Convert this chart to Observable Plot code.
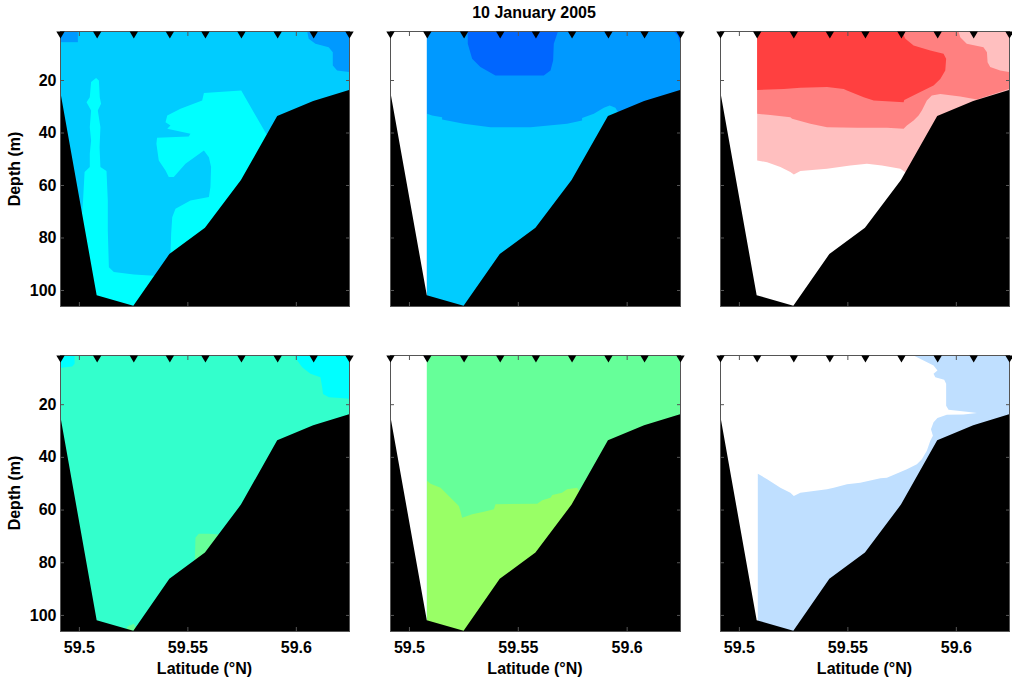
<!DOCTYPE html>
<html>
<head>
<meta charset="utf-8">
<script src="https://cdn.jsdelivr.net/npm/d3@7"></script>
<script src="https://cdn.jsdelivr.net/npm/@observablehq/plot@0.6"></script>
<style>
  html, body { margin: 0; padding: 0; background: #fff; }
  #root { position: relative; width: 1012px; height: 679px; overflow: hidden;
          font-family: "Liberation Sans", Arial, sans-serif; font-weight: bold; color: #000; }
  #root svg { position: absolute; }
  .lbl { position: absolute; font-size: 16px; line-height: 19px; font-weight: bold; white-space: nowrap; }
</style>
</head>
<body>
<div id="root"></div>
<script>
// ---------------- data (latitude °N, depth m) ----------------
const stationLat = [59.4913, 59.5082, 59.5251, 59.5417, 59.5581, 59.5747, 59.5914, 59.6080, 59.6245];
const bottomDepth = [23.8, 102.0, 106.0, 86.3, 76.3, 58.1, 33.7, 28.0, 23.8];
const depthDomain = [1.33, 106.1];
const xTicks = [59.5, 59.55, 59.6];
const yTicks = [20, 40, 60, 80, 100];
const titleText = "10 January 2005";
const xLabel = "Latitude (°N)";
const yLabel = "Depth (m)";

// panel 1 (top-left) contour regions
const p1TopLeft = [[59.4913,1.33],[59.4993,1.33],[59.4993,5.4],[59.4913,5.4]];
const p1TopRight = [[59.6050,1.33],[59.6057,4.1],[59.6088,6.0],[59.6149,7.3],[59.6168,9.2],[59.6168,14.3],[59.6188,16.2],[59.6245,16.8],[59.6245,1.33]];
const p1CyanLeft = [[59.5077,19.0],[59.5090,20.0],[59.5094,26.4],[59.5100,28.9],[59.5085,31.4],[59.5097,37.8],[59.5093,45.4],[59.5097,53.0],[59.5125,54.5],[59.5131,65.7],[59.5131,77.1],[59.5136,91.1],[59.5159,93.0],[59.5251,93.9],[59.5343,94.4],[59.5435,96.8],[59.5282,106.1],[59.5036,106.1],[59.5005,78.4],[59.5017,65.7],[59.5024,54.9],[59.5048,53.0],[59.5048,47.9],[59.5054,42.9],[59.5048,37.8],[59.5054,31.4],[59.5033,28.3],[59.5048,26.4],[59.5054,20.6]];
const p1CyanMain = [[59.5574,24.8],[59.5746,23.8],[59.5781,28.9],[59.5865,40.9],[59.5942,65.7],[59.5497,91.1],[59.5420,86.0],[59.5423,78.4],[59.5428,72.1],[59.5443,68.9],[59.5512,65.7],[59.5597,64.4],[59.5604,60.6],[59.5607,53.0],[59.5597,49.2],[59.5574,46.7],[59.5489,51.7],[59.5435,56.8],[59.5412,56.8],[59.5397,54.3],[59.5366,50.5],[59.5355,44.1],[59.5358,41.8],[59.5504,41.3],[59.5512,40.3],[59.5405,38.4],[59.5420,37.1],[59.5397,35.9],[59.5405,33.3],[59.5466,30.8],[59.5566,27.6]];

// panel 2 (top-middle)
const p2Lower = [[59.5081,32.7],[59.5104,33.3],[59.5150,34.0],[59.5150,34.9],[59.5250,36.5],[59.5372,37.8],[59.5556,37.8],[59.5724,36.5],[59.5793,35.2],[59.5793,34.3],[59.5847,32.7],[59.5893,30.4],[59.5920,29.5],[59.5946,30.4],[59.5962,32.7],[59.6092,53.0],[59.5786,106.1],[59.5081,106.1]];
const p2Core = [[59.5268,1.33],[59.5268,6.0],[59.5288,11.7],[59.5326,14.9],[59.5395,18.1],[59.5617,18.1],[59.5648,16.2],[59.5660,12.4],[59.5663,6.0],[59.5682,1.33]];
const p2Corner = [[59.6214,1.33],[59.6233,2.9],[59.6242,5.4],[59.6245,7.3],[59.6245,1.33]];

// panel 3 (top-right)
const p3Pink = [[59.5082,1.33],[59.6245,1.33],[59.6245,27.6],[59.5895,65.7],[59.5763,54.9],[59.5742,53.6],[59.5657,52.4],[59.5588,51.7],[59.5511,52.4],[59.5404,53.6],[59.5281,54.5],[59.5251,55.8],[59.5235,54.9],[59.5189,53.0],[59.5128,51.1],[59.5082,50.5]];
const p3Salmon = [[59.5082,1.33],[59.6010,1.33],[59.6018,3.5],[59.6048,6.0],[59.6125,7.3],[59.6141,9.2],[59.6144,13.0],[59.6156,14.9],[59.6202,16.2],[59.6245,16.8],[59.6245,23.2],[59.6095,27.2],[59.6018,26.1],[59.5926,25.1],[59.5887,25.7],[59.5864,27.6],[59.5841,31.4],[59.5826,33.3],[59.5803,35.2],[59.5772,37.1],[59.5757,38.4],[59.5680,38.0],[59.5542,38.0],[59.5404,37.8],[59.5327,36.5],[59.5243,34.6],[59.5235,34.0],[59.5143,33.1],[59.5082,32.7]];
const p3Red = [[59.5082,1.33],[59.5749,1.33],[59.5765,4.1],[59.5803,6.7],[59.5880,8.6],[59.5941,9.8],[59.5953,11.7],[59.5949,16.2],[59.5926,19.4],[59.5895,21.9],[59.5834,24.4],[59.5760,27.4],[59.5757,28.3],[59.5619,27.6],[59.5573,26.4],[59.5496,23.8],[59.5481,23.2],[59.5404,22.5],[59.5281,22.8],[59.5205,23.2],[59.5082,23.6]];

// panel 4 (bottom-left)
const p4CyanLeft = [[59.4913,1.33],[59.4978,1.33],[59.4978,4.5],[59.4967,5.5],[59.4936,5.8],[59.4913,6.0]];
const p4CyanRight = [[59.5996,1.33],[59.6004,3.2],[59.6027,5.8],[59.6065,8.3],[59.6111,9.6],[59.6119,13.4],[59.6123,15.9],[59.6150,17.2],[59.6203,17.5],[59.6245,17.8],[59.6245,1.33]];
const p4Patch = [[59.5535,70.5],[59.5550,69.0],[59.5597,69.0],[59.5643,69.3],[59.5712,78.2],[59.5532,79.7]];
const p4PatchBottom = [[59.5220,104.3],[59.5251,103.2],[59.5266,105.6],[59.5251,106.1],[59.5220,106.1]];

// panel 5 (bottom-middle)
const p5Lower = [[59.5081,48.9],[59.5097,50.0],[59.5143,51.5],[59.5189,55.3],[59.5227,58.5],[59.5234,60.4],[59.5242,62.9],[59.5288,61.6],[59.5342,60.6],[59.5388,59.7],[59.5395,57.8],[59.5587,57.6],[59.5610,56.3],[59.5648,55.3],[59.5656,54.3],[59.5701,53.4],[59.5724,52.1],[59.5770,51.5],[59.5781,53.0],[59.5939,71.8],[59.5326,106.1],[59.5081,106.1]];

// panel 6 (bottom-right)
const p6Blue = [[59.5803,1.33],[59.6245,1.33],[59.6245,33.7],[59.5895,71.8],[59.5435,106.1],[59.5085,106.1],[59.5085,46.2],[59.5128,48.3],[59.5189,51.5],[59.5235,53.4],[59.5251,54.7],[59.5281,53.4],[59.5404,52.1],[59.5435,51.5],[59.5496,50.2],[59.5557,49.6],[59.5650,47.9],[59.5680,47.7],[59.5772,44.5],[59.5818,42.6],[59.5841,40.7],[59.5864,37.5],[59.5880,33.7],[59.5892,31.8],[59.5883,29.3],[59.5895,26.7],[59.5913,25.1],[59.5956,23.8],[59.6033,23.7],[59.6095,23.2],[59.6048,22.7],[59.5964,21.9],[59.5953,20.4],[59.5953,12.1],[59.5944,10.5],[59.5903,9.6],[59.5895,8.3],[59.5913,7.0],[59.5895,5.1]];

// ---------------- layout / styling ----------------
const colBoxes = [
  {left: 0,   width: 370, ml: 60, mr: 21},
  {left: 370, width: 330, ml: 20, mr: 20},
  {left: 700, width: 312, ml: 20, mr: 3}
];
const rowBoxes = [
  {top: 0,   height: 330, mt: 31, mb: 24},
  {top: 330, height: 349, mt: 25, mb: 48}
];

const panels = [
  {col: 0, row: 0, start: 0, base: "#00CCFF", layers: [[p1TopLeft, "#0099FF"], [p1TopRight, "#0099FF"], [p1CyanLeft, "#00FFFF"], [p1CyanMain, "#00FFFF"]]},
  {col: 1, row: 0, start: 1, base: "#0099FF", layers: [[p2Lower, "#00CCFF"], [p2Core, "#0066FF"], [p2Corner, "#0066FF"]]},
  {col: 2, row: 0, start: 1, base: null, layers: [[p3Pink, "#FFBFBF"], [p3Salmon, "#FF8080"], [p3Red, "#FF4040"]]},
  {col: 0, row: 1, start: 0, base: "#33FFCC", layers: [[p4CyanLeft, "#00FFFF"], [p4CyanRight, "#00FFFF"], [p4Patch, "#66FF99"], [p4PatchBottom, "#66FF99"]]},
  {col: 1, row: 1, start: 1, base: "#66FF99", layers: [[p5Lower, "#99FF66"]]},
  {col: 2, row: 1, start: 1, base: null, layers: [[p6Blue, "#BFDFFF"]]}
];

const root = document.getElementById("root");
const latDomain = [stationLat[0], stationLat[stationLat.length - 1]];
const bathy = stationLat.map((lat, i) => ({lat, depth: bottomDepth[i]}));
const axisColor = "#555";

for (const p of panels) {
  const cb = colBoxes[p.col], rb = rowBoxes[p.row];
  const marks = [];
  if (p.base) {
    marks.push(Plot.rect([{x1: stationLat[p.start], x2: latDomain[1], y1: depthDomain[0], y2: depthDomain[1]}],
      {x1: "x1", x2: "x2", y1: "y1", y2: "y2", fill: p.base, clip: true}));
  }
  for (const [pts, color] of p.layers) {
    marks.push(Plot.line(pts, {x: d => d[0], y: d => d[1], fill: color, stroke: "none", curve: "linear", clip: true}));
  }
  marks.push(Plot.areaY(bathy, {x: "lat", y1: "depth", y2: () => depthDomain[1], fill: "black", clip: true}));
  marks.push(Plot.frame({stroke: axisColor, strokeWidth: 1}));
  marks.push(Plot.axisY({ticks: yTicks, anchor: "left", tickSize: -4, tickPadding: 8, stroke: axisColor, fill: "black",
    tickFormat: p.col === 0 ? (d => String(d)) : (() => ""), label: null}));
  marks.push(Plot.axisY({ticks: yTicks, anchor: "right", tickSize: -4, stroke: axisColor, tickFormat: () => "", label: null}));
  marks.push(Plot.axisX({ticks: xTicks, anchor: "bottom", tickSize: -4, tickPadding: 14, stroke: axisColor, fill: "black",
    tickFormat: p.row === 1 ? (d => String(d)) : (() => ""), label: null}));
  marks.push(Plot.axisX({ticks: xTicks, anchor: "top", tickSize: -4, stroke: axisColor, tickFormat: () => "", label: null}));
  marks.push(Plot.dot(stationLat, {x: d => d, y: () => depthDomain[0], symbol: "triangle", r: 3.1, rotate: 180, dy: 2.3,
    fill: "black", stroke: "none"}));

  const svg = Plot.plot({
    width: cb.width, height: rb.height,
    marginLeft: cb.ml, marginRight: cb.mr, marginTop: rb.mt, marginBottom: rb.mb,
    x: {domain: latDomain, axis: null},
    y: {domain: depthDomain, reverse: true, axis: null},
    style: {fontFamily: "'Liberation Sans', Arial, sans-serif", fontSize: "16px", fontWeight: "bold",
            background: "transparent", overflow: "visible", color: "black"},
    marks
  });
  svg.style.left = cb.left + "px";
  svg.style.top = rb.top + "px";
  svg.style.position = "absolute";
  root.appendChild(svg);
}

function addLabel(text, x, y, rotate) {
  const d = document.createElement("div");
  d.className = "lbl";
  d.textContent = text;
  d.style.left = x + "px";
  d.style.top = y + "px";
  d.style.transform = "translate(-50%, -50%)" + (rotate ? " rotate(-90deg)" : "");
  root.appendChild(d);
}
addLabel(titleText, 534, 12, false);
[204.5, 535, 864.5].forEach(cx => addLabel(xLabel, cx, 668, false));
[168.5, 493].forEach(cy => addLabel(yLabel, 14, cy, true));
</script>
</body>
</html>
